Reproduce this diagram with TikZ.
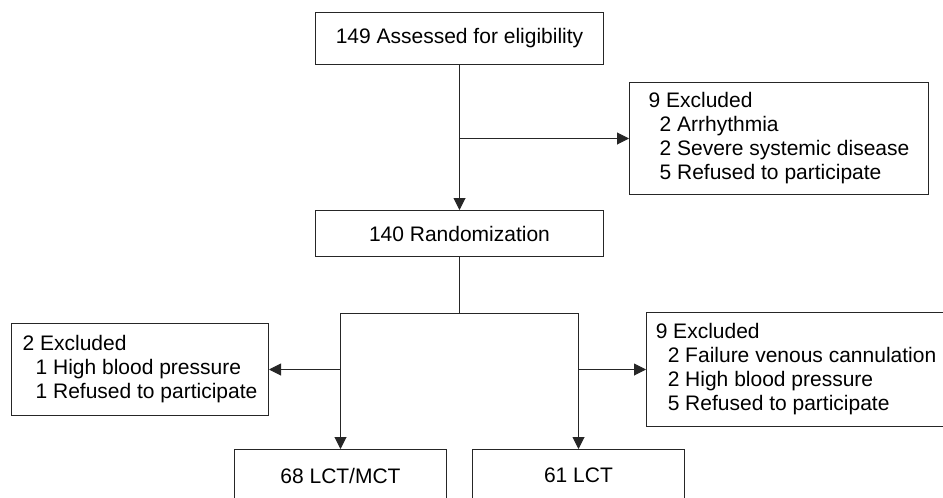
\documentclass[tikz,border=0pt]{standalone}
\usepackage{fontspec}
\setmainfont{Liberation Sans}
\usetikzlibrary{arrows.meta}
\begin{document}
\begin{tikzpicture}[x=1pt,y=-1pt,
    box/.style={draw=black!85,line width=1pt,inner sep=0pt,font=\fontsize{21}{24}\selectfont},
    listbox/.style={box,align=left,anchor=north west},
    arr/.style={draw=black!85,line width=1pt,-{Triangle[length=12pt,width=12pt]}},
    line/.style={draw=black!85,line width=1pt}]
    \useasboundingbox (0,0) rectangle (943,498);
    \clip (0,0) rectangle (943,498);
    % main column
    \node[box,minimum width=288pt,minimum height=52pt,anchor=north west] (assess) at (315,12) {149 Assessed for eligibility};
    \node[box,minimum width=288pt,minimum height=46pt,anchor=north west] (random) at (315,210) {140 Randomization};
    \node[listbox,minimum width=299pt,minimum height=112pt] (excltop) at (629,82)
        {9 Excluded\\\hspace*{11pt}2 Arrhythmia\\\hspace*{11pt}2 Severe systemic disease\\\hspace*{11pt}5 Refused to participate};
    % the two arms
    \node[box,minimum width=212pt,minimum height=52pt,anchor=north west] (armmix) at (234,449) {68 LCT/MCT};
    \node[box,minimum width=212pt,minimum height=52pt,anchor=north west] (armlct) at (472,449) {61 LCT};
    \node[listbox,minimum width=257pt,minimum height=92pt] (exclleft) at (11,323)
        {2 Excluded\\\hspace*{13pt}1 High blood pressure\\\hspace*{13pt}1 Refused to participate};
    \node[listbox,minimum width=299pt,minimum height=114pt] (exclright) at (646,312)
        {9 Excluded\\\hspace*{12pt}2 Failure venous cannulation\\\hspace*{12pt}2 High blood pressure\\\hspace*{12pt}5 Refused to participate};
    % connectors
    \draw[arr] (assess) -- (random);
    \draw[arr] (assess.south |- excltop.west) -- (excltop.west);
    \path (random.south) ++(0,56) coordinate (fork);
    \draw[line] (random) -- (fork);
    \draw[line] (armmix.north |- fork) -- (armlct.north |- fork);
    \draw[arr] (armmix.north |- fork) -- (armmix);
    \draw[arr] (armlct.north |- fork) -- (armlct);
    \draw[arr] (armmix.north |- exclleft.east) -- (exclleft.east);
    \draw[arr] (armlct.north |- exclright.west) -- (exclright.west);
\end{tikzpicture}
\end{document}
